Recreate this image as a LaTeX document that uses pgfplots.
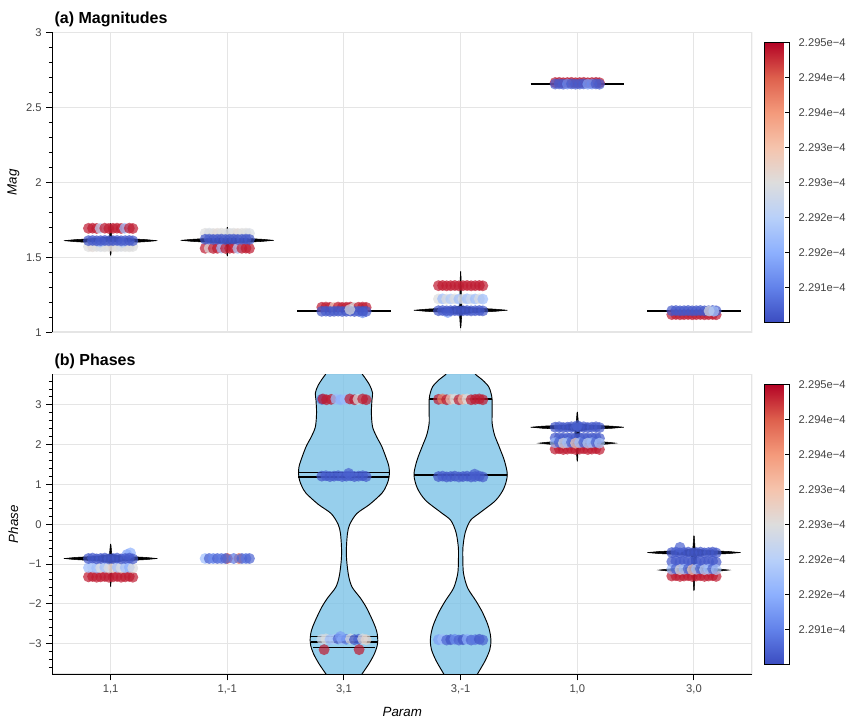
\documentclass[border=0pt]{standalone}
\usepackage{fontspec}
\setmainfont{Liberation Sans}
\usepackage{pgfplots}
\usepackage{pgfplotstable}
\pgfplotsset{compat=1.18}
\definecolor{gridgrey}{RGB}{229,229,229}
\definecolor{labgrey}{RGB}{68,68,68}
\definecolor{vfill}{RGB}{125,195,231}
\pgfplotsset{colormap={coolwarm}{rgb255=(59,76,192) rgb255=(98,130,234) rgb255=(141,176,254) rgb255=(184,208,249) rgb255=(221,221,221) rgb255=(245,196,173) rgb255=(244,154,123) rgb255=(222,96,77) rgb255=(180,4,38)}}

\pgfplotstableread[row sep=\\]{
x y m\\
-0.19 1.571 0.5\\ -0.155 1.570 0.52\\ -0.12 1.572 0.5\\ -0.085 1.571 0.48\\ -0.05 1.570 0.5\\ -0.015 1.572 0.5\\
0.02 1.571 0.52\\ 0.055 1.570 0.5\\ 0.09 1.572 0.48\\ 0.125 1.571 0.5\\ 0.16 1.570 0.5\\ 0.19 1.572 0.5\\
-0.09 1.602 0.3\\ 0.1 1.600 0.35\\
-0.19 1.693 0.97\\ -0.155 1.694 0.97\\ -0.12 1.692 0.97\\ -0.09 1.693 0.4\\ -0.05 1.694 0.97\\ -0.015 1.692 0.97\\
0.02 1.693 0.97\\ 0.055 1.694 0.97\\ 0.09 1.692 0.97\\ 0.12 1.693 0.3\\ 0.16 1.694 0.97\\ 0.19 1.692 0.97\\
-0.19 1.611 0.02\\ -0.155 1.612 0.04\\ -0.12 1.610 0.02\\ -0.085 1.611 0.03\\ -0.05 1.612 0.02\\ -0.015 1.610 0.04\\
0.02 1.611 0.02\\ 0.055 1.612 0.03\\ 0.09 1.610 0.02\\ 0.125 1.611 0.04\\ 0.16 1.612 0.02\\ 0.19 1.610 0.03\\
0.81 1.660 0.5\\ 0.845 1.661 0.48\\ 0.88 1.659 0.5\\ 0.915 1.660 0.52\\ 0.95 1.661 0.5\\ 0.985 1.659 0.5\\
1.02 1.660 0.48\\ 1.055 1.661 0.5\\ 1.09 1.659 0.52\\ 1.125 1.660 0.5\\ 1.16 1.661 0.5\\ 1.19 1.659 0.48\\
0.81 1.560 0.97\\ 0.845 1.561 0.5\\ 0.88 1.559 0.97\\ 0.915 1.560 0.97\\ 0.95 1.561 0.3\\ 0.985 1.559 0.97\\
1.02 1.560 0.97\\ 1.055 1.561 0.97\\ 1.09 1.559 0.35\\ 1.125 1.560 0.97\\ 1.16 1.561 0.97\\ 1.19 1.559 0.97\\
0.81 1.620 0.02\\ 0.845 1.621 0.04\\ 0.88 1.619 0.02\\ 0.915 1.620 0.03\\ 0.95 1.621 0.02\\ 0.985 1.619 0.04\\
1.02 1.620 0.02\\ 1.055 1.621 0.03\\ 1.09 1.619 0.02\\ 1.125 1.620 0.04\\ 1.16 1.621 0.02\\ 1.19 1.619 0.03\\
1.81 1.167 0.97\\ 1.845 1.168 0.97\\ 1.88 1.166 0.97\\ 1.915 1.167 0.6\\ 1.95 1.168 0.97\\ 1.985 1.166 0.97\\
2.02 1.167 0.97\\ 2.055 1.168 0.97\\ 2.09 1.166 0.5\\ 2.125 1.167 0.97\\ 2.16 1.168 0.97\\ 2.19 1.166 0.97\\
2.16 1.130 0.17\\
1.81 1.140 0.02\\ 1.845 1.141 0.04\\ 1.88 1.139 0.02\\ 1.915 1.140 0.03\\ 1.95 1.141 0.02\\ 1.985 1.139 0.04\\
2.02 1.140 0.02\\ 2.055 1.141 0.03\\ 2.09 1.139 0.02\\ 2.125 1.140 0.04\\ 2.16 1.141 0.02\\ 2.19 1.139 0.03\\
2.05 1.152 0.5\\
2.81 1.311 0.97\\ 2.845 1.312 0.97\\ 2.88 1.310 0.97\\ 2.915 1.311 0.97\\ 2.95 1.312 0.97\\ 2.985 1.310 0.97\\
3.02 1.311 0.97\\ 3.055 1.312 0.97\\ 3.09 1.310 0.97\\ 3.125 1.311 0.97\\ 3.16 1.312 0.97\\ 3.19 1.310 0.97\\
2.81 1.222 0.5\\ 2.845 1.223 0.3\\ 2.88 1.221 0.5\\ 2.915 1.222 0.35\\ 2.95 1.223 0.5\\ 2.985 1.221 0.3\\
3.02 1.222 0.5\\ 3.055 1.223 0.3\\ 3.09 1.221 0.45\\ 3.125 1.222 0.3\\ 3.16 1.223 0.5\\ 3.19 1.221 0.3\\
2.89 1.132 0.2\\
2.81 1.144 0.02\\ 2.845 1.145 0.04\\ 2.88 1.143 0.02\\ 2.915 1.144 0.03\\ 2.95 1.145 0.02\\ 2.985 1.143 0.04\\
3.02 1.144 0.02\\ 3.055 1.145 0.03\\ 3.09 1.143 0.02\\ 3.125 1.144 0.04\\ 3.16 1.145 0.02\\ 3.19 1.143 0.03\\
3.81 2.665 0.97\\ 3.845 2.666 0.97\\ 3.88 2.664 0.97\\ 3.915 2.665 0.97\\ 3.95 2.666 0.97\\ 3.985 2.664 0.97\\
4.02 2.665 0.97\\ 4.055 2.666 0.97\\ 4.09 2.664 0.97\\ 4.125 2.665 0.97\\ 4.16 2.666 0.97\\ 4.19 2.664 0.97\\
3.81 2.655 0.04\\ 3.845 2.656 0.04\\ 3.88 2.654 0.04\\ 3.915 2.655 0.15\\ 3.95 2.656 0.04\\ 3.985 2.654 0.04\\
4.02 2.655 0.04\\ 4.055 2.656 0.04\\ 4.09 2.654 0.2\\ 4.125 2.655 0.15\\ 4.16 2.656 0.04\\ 4.19 2.654 0.04\\
4.81 1.118 0.97\\ 4.845 1.119 0.97\\ 4.88 1.117 0.97\\ 4.915 1.118 0.97\\ 4.95 1.119 0.97\\ 4.985 1.117 0.97\\
5.02 1.118 0.97\\ 5.055 1.119 0.97\\ 5.09 1.117 0.97\\ 5.125 1.118 0.97\\ 5.16 1.119 0.97\\ 5.19 1.117 0.97\\
4.81 1.144 0.03\\ 4.845 1.145 0.03\\ 4.88 1.143 0.03\\ 4.915 1.144 0.03\\ 4.95 1.145 0.03\\ 4.985 1.143 0.03\\
5.02 1.144 0.03\\ 5.055 1.145 0.03\\ 5.09 1.143 0.03\\ 5.125 1.144 0.03\\ 5.16 1.145 0.03\\ 5.19 1.143 0.03\\
5.13 1.142 0.5\\ 5.17 1.140 0.35\\
}\magpts

\pgfplotstableread[row sep=\\]{
x y m\\
-0.19 -1.32 0.97\\ -0.155 -1.31 0.97\\ -0.12 -1.33 0.97\\ -0.085 -1.32 0.97\\ -0.05 -1.31 0.97\\ -0.015 -1.33 0.97\\
0.02 -1.32 0.97\\ 0.055 -1.31 0.97\\ 0.09 -1.33 0.97\\ 0.125 -1.32 0.97\\ 0.16 -1.31 0.97\\ 0.19 -1.33 0.97\\
-0.19 -1.09 0.3\\ -0.155 -1.08 0.35\\ -0.12 -1.10 0.3\\ -0.085 -1.09 0.5\\ -0.05 -1.08 0.3\\ -0.015 -1.10 0.5\\
0.02 -1.09 0.55\\ 0.055 -1.08 0.3\\ 0.09 -1.10 0.5\\ 0.125 -1.09 0.3\\ 0.16 -1.08 0.25\\ 0.19 -1.10 0.5\\
0.14 -0.76 0.2\\ 0.17 -0.72 0.25\\
-0.19 -0.86 0.02\\ -0.155 -0.85 0.04\\ -0.12 -0.87 0.02\\ -0.085 -0.86 0.03\\ -0.05 -0.85 0.02\\ -0.015 -0.87 0.04\\
0.02 -0.86 0.02\\ 0.055 -0.85 0.03\\ 0.09 -0.87 0.02\\ 0.125 -0.86 0.04\\ 0.16 -0.85 0.02\\ 0.19 -0.87 0.03\\
1.0 -0.86 0.9\\ 1.1 -0.86 0.85\\
0.81 -0.86 0.3\\ 0.845 -0.86 0.05\\ 0.88 -0.86 0.15\\ 0.915 -0.86 0.05\\ 0.95 -0.86 0.1\\ 0.985 -0.86 0.05\\
1.055 -0.86 0.1\\ 1.125 -0.86 0.05\\ 1.16 -0.86 0.1\\ 1.19 -0.86 0.05\\
1.81 -2.89 0.45\\ 1.845 -2.88 0.5\\ 1.88 -2.90 0.3\\ 1.915 -2.89 0.35\\ 1.95 -2.88 0.05\\ 1.985 -2.90 0.3\\
2.02 -2.89 0.1\\ 2.055 -2.88 0.5\\ 2.09 -2.90 0.02\\ 2.125 -2.89 0.05\\ 2.16 -2.88 0.5\\ 2.19 -2.90 0.55\\
1.97 -2.82 0.2\\ 1.83 -3.15 0.97\\ 2.13 -3.15 0.97\\
1.81 1.21 0.02\\ 1.845 1.22 0.04\\ 1.88 1.20 0.02\\ 1.915 1.21 0.03\\ 1.95 1.22 0.02\\ 1.985 1.20 0.04\\
2.02 1.21 0.02\\ 2.055 1.22 0.03\\ 2.09 1.20 0.02\\ 2.125 1.21 0.04\\ 2.16 1.22 0.02\\ 2.19 1.20 0.03\\
2.04 1.28 0.05\\
1.81 3.14 0.05\\ 1.82 3.15 0.97\\ 1.85 3.13 0.97\\ 1.89 3.14 0.97\\ 1.93 3.15 0.3\\ 1.97 3.13 0.25\\
2.01 3.14 0.3\\ 2.05 3.15 0.97\\ 2.09 3.13 0.97\\ 2.12 3.14 0.5\\ 2.16 3.15 0.97\\ 2.19 3.13 0.97\\
2.81 3.14 0.97\\ 2.845 3.15 0.8\\ 2.88 3.13 0.97\\ 2.915 3.14 0.6\\ 2.95 3.15 0.5\\ 2.985 3.13 0.97\\
3.02 3.14 0.65\\ 3.055 3.15 0.5\\ 3.09 3.13 0.97\\ 3.125 3.14 0.97\\ 3.16 3.15 0.97\\ 3.19 3.13 0.97\\
2.81 1.20 0.02\\ 2.845 1.21 0.04\\ 2.88 1.19 0.02\\ 2.915 1.20 0.03\\ 2.95 1.21 0.02\\ 2.985 1.19 0.04\\
3.02 1.20 0.02\\ 3.055 1.21 0.03\\ 3.09 1.19 0.02\\ 3.125 1.20 0.04\\ 3.16 1.21 0.02\\ 3.19 1.19 0.03\\
3.12 1.26 0.04\\
2.81 -2.90 0.2\\ 2.845 -2.89 0.3\\ 2.88 -2.91 0.05\\ 2.915 -2.90 0.02\\ 2.95 -2.89 0.15\\ 2.985 -2.91 0.05\\
3.02 -2.90 0.02\\ 3.055 -2.89 0.25\\ 3.09 -2.91 0.05\\ 3.125 -2.90 0.1\\ 3.16 -2.89 0.02\\ 3.19 -2.91 0.05\\
3.81 2.17 0.03\\ 3.845 2.18 0.03\\ 3.88 2.16 0.03\\ 3.915 2.17 0.03\\ 3.95 2.18 0.03\\ 3.985 2.16 0.03\\
4.02 2.17 0.03\\ 4.055 2.18 0.03\\ 4.09 2.16 0.03\\ 4.125 2.17 0.03\\ 4.16 2.18 0.03\\ 4.19 2.16 0.03\\
3.81 1.89 0.97\\ 3.845 1.90 0.97\\ 3.88 1.88 0.97\\ 3.915 1.89 0.97\\ 3.95 1.90 0.97\\ 3.985 1.88 0.97\\
4.02 1.89 0.97\\ 4.055 1.90 0.97\\ 4.09 1.88 0.97\\ 4.125 1.89 0.97\\ 4.16 1.90 0.97\\ 4.19 1.88 0.97\\
3.81 2.05 0.3\\ 3.845 2.06 0.05\\ 3.88 2.04 0.5\\ 3.915 2.05 0.3\\ 3.95 2.06 0.05\\ 3.985 2.04 0.6\\
4.02 2.05 0.3\\ 4.055 2.06 0.05\\ 4.09 2.04 0.4\\ 4.125 2.05 0.3\\ 4.16 2.06 0.05\\ 4.19 2.04 0.35\\
3.81 2.44 0.02\\ 3.845 2.45 0.04\\ 3.88 2.43 0.02\\ 3.915 2.44 0.03\\ 3.95 2.45 0.02\\ 3.985 2.43 0.04\\
4.02 2.44 0.02\\ 4.055 2.45 0.03\\ 4.09 2.43 0.02\\ 4.125 2.44 0.04\\ 4.16 2.45 0.02\\ 4.19 2.43 0.03\\
4.0 2.48 0.05\\
4.81 -0.94 0.03\\ 4.845 -0.93 0.03\\ 4.88 -0.95 0.03\\ 4.915 -0.94 0.03\\ 4.95 -0.93 0.03\\ 4.985 -0.95 0.03\\
5.02 -0.94 0.03\\ 5.055 -0.93 0.03\\ 5.09 -0.95 0.03\\ 5.125 -0.94 0.03\\ 5.16 -0.93 0.03\\ 5.19 -0.95 0.03\\
4.81 -1.30 0.97\\ 4.845 -1.29 0.97\\ 4.88 -1.31 0.97\\ 4.915 -1.30 0.97\\ 4.95 -1.29 0.97\\ 4.985 -1.31 0.97\\
5.02 -1.30 0.97\\ 5.055 -1.29 0.97\\ 5.09 -1.31 0.97\\ 5.125 -1.30 0.97\\ 5.16 -1.29 0.97\\ 5.19 -1.31 0.97\\
4.81 -1.13 0.3\\ 4.845 -1.12 0.05\\ 4.88 -1.14 0.5\\ 4.915 -1.13 0.3\\ 4.95 -1.12 0.05\\ 4.985 -1.14 0.6\\
5.02 -1.13 0.3\\ 5.055 -1.12 0.05\\ 5.09 -1.14 0.4\\ 5.125 -1.13 0.3\\ 5.16 -1.12 0.05\\ 5.19 -1.14 0.35\\
4.81 -0.71 0.02\\ 4.845 -0.70 0.04\\ 4.88 -0.72 0.02\\ 4.915 -0.71 0.03\\ 4.95 -0.70 0.02\\ 4.985 -0.72 0.04\\
5.02 -0.71 0.02\\ 5.055 -0.70 0.03\\ 5.09 -0.72 0.02\\ 5.125 -0.71 0.04\\ 5.16 -0.70 0.02\\ 5.19 -0.72 0.03\\
4.88 -0.58 0.05\\
}\phpts

\pgfplotsset{
  panel/.style={
    scale only axis, width=525pt, height=225pt,
    xmin=-0.5, xmax=5.5,
    axis lines=left, axis line style={-, black, line width=0.75pt},
    xtick={0,1,2,3,4,5},
    grid=major, major grid style={gridgrey, line width=0.75pt},
    tick align=outside, major tick length=4.5pt, minor tick length=2.6pt,
    tick style={black, line width=0.75pt},
    tick label style={font=\fontsize{8.4}{10}\selectfont, text=labgrey},
    label style={font=\fontsize{9.75}{12}\selectfont, text=labgrey},
    every axis y label/.style={at={(0,0.5)}, xshift=-29.25pt, rotate=90, anchor=center},
    title style={at={(0,1)}, anchor=west, xshift=1.5pt, yshift=4pt, inner sep=0pt, font=\bfseries\fontsize{12}{14}\selectfont, text=black},
    point meta min=0, point meta max=1,
    colorbar,
    colorbar shift/.style={xshift=9pt, yshift=-7.8pt},
    colorbar style={
      at={(parent axis.north east)}, anchor=north west,
      scale only axis, width=18.75pt, height=209.7pt,
      axis line style={black, line width=0.75pt},
      ytick={0.125,0.25,0.375,0.5,0.625,0.75,0.875,1},
      yticklabels={2.291e−4,2.292e−4,2.292e−4,2.293e−4,2.293e−4,2.294e−4,2.294e−4,2.295e−4},
      ytick pos=right, yticklabel pos=right,
      tick align=inside, major tick length=3pt,
      tick style={black, line width=0.6pt},
      yticklabel style={font=\fontsize{8.4}{10}\selectfont, text=labgrey, xshift=3.5pt},
    },
  },
  pts/.style={scatter, only marks, mark=*, mark size=4.1pt, scatter src=explicit,
    scatter/use mapped color={draw opacity=0, fill=mapped color, fill opacity=0.7}},
  violin/.style={fill=vfill, fill opacity=0.8, draw=black, line width=0.7pt},
  spike/.style={fill=black, draw=black, line width=0.4pt},
}

\begin{document}
\begin{tikzpicture}
\useasboundingbox (0,0) rectangle (642pt,540.75pt);

\begin{axis}[panel, name=pa, at={(39.225pt,291.525pt)}, anchor=south west,
  ymin=1, ymax=3, ytick={1,1.5,2,2.5,3}, yticklabels={1,1.5,2,2.5,3},
  minor ytick={1.1,1.2,1.3,1.4,1.6,1.7,1.8,1.9,2.1,2.2,2.3,2.4,2.6,2.7,2.8,2.9},
  xticklabels={}, xtick style={draw=none},
  x axis line style={draw=gridgrey},
  ylabel={\textit{Mag}}, title={(a) Magnitudes}]
\draw[gridgrey, line width=1.5pt] (rel axis cs:0,0) rectangle (rel axis cs:1,1);
\addplot[spike] coordinates {(0.002,1.515) (0.01,1.585) (0.1,1.595) (0.3,1.604) (0.4,1.611) (0.3,1.618) (0.1,1.627) (0.01,1.637) (0.002,1.724)
 (-0.002,1.724) (-0.01,1.637) (-0.1,1.627) (-0.3,1.618) (-0.4,1.611) (-0.3,1.604) (-0.1,1.595) (-0.01,1.585) (-0.002,1.515)} --cycle;
\addplot[spike] coordinates {(1.002,1.51) (1.01,1.587) (1.1,1.597) (1.3,1.606) (1.4,1.613) (1.3,1.620) (1.1,1.629) (1.01,1.639) (1.002,1.70)
 (0.998,1.70) (0.99,1.639) (0.9,1.629) (0.7,1.620) (0.6,1.613) (0.7,1.606) (0.9,1.597) (0.99,1.587) (0.998,1.51)} --cycle;
\addplot[spike] coordinates {(3.002,1.03) (3.01,1.121) (3.1,1.131) (3.3,1.140) (3.4,1.147) (3.3,1.154) (3.1,1.163) (3.01,1.173) (3.002,1.404)
 (2.998,1.404) (2.99,1.173) (2.9,1.163) (2.7,1.154) (2.6,1.147) (2.7,1.140) (2.9,1.131) (2.99,1.121) (2.998,1.03)} --cycle;
\addplot[black, line width=1.5pt] coordinates {(1.6,1.145) (2.4,1.145)};
\addplot[black, line width=1.5pt] coordinates {(3.6,2.655) (4.4,2.655)};
\addplot[black, line width=1.5pt] coordinates {(4.6,1.144) (5.4,1.144)};
\addplot[pts] table[x=x, y=y, meta=m] {\magpts};
\end{axis}

\begin{axis}[panel, name=pb, at={(39.225pt,35.025pt)}, anchor=south west,
  ymin=-3.77, ymax=3.77, ytick={-3,-2,-1,0,1,2,3}, yticklabels={−3,−2,−1,0,1,2,3},
  minor ytick={-3.6,-3.4,-3.2,-2.8,-2.6,-2.4,-2.2,-1.8,-1.6,-1.4,-1.2,-0.8,-0.6,-0.4,-0.2,0.2,0.4,0.6,0.8,1.2,1.4,1.6,1.8,2.2,2.4,2.6,2.8,3.2,3.4,3.6},
  xticklabels={{1,1},{1,-1},{3,1},{3,-1},{1,0},{3,0}},
  xlabel={\textit{Param}}, ylabel={\textit{Phase}}, title={(b) Phases},
  every axis x label/.style={at={(0.5,0)}, anchor=center, yshift=-28.3pt}]
\draw[gridgrey, line width=1.5pt] (rel axis cs:0,0) rectangle (rel axis cs:1,1);
\addplot[violin, smooth, tension=0.5] coordinates {(2.12,-3.90) (2.155,-3.76) (2.215,-3.50) (2.26,-3.26) (2.285,-3.05) (2.29,-2.92) (2.285,-2.75) (2.27,-2.59) (2.235,-2.35) (2.19,-2.08) (2.14,-1.85) (2.07,-1.58) (2.04,-1.30) (2.023,-0.90) (2.021,-0.60) (2.03,-0.23) (2.05,0.00) (2.11,0.27) (2.22,0.50) (2.325,0.78) (2.36,0.95) (2.38,1.10) (2.39,1.28) (2.385,1.45) (2.37,1.60) (2.325,1.95) (2.28,2.20) (2.245,2.45) (2.235,2.80) (2.24,3.13) (2.245,3.30) (2.22,3.50) (2.16,3.76) (2.11,3.90)
 (1.89,3.90) (1.84,3.76) (1.78,3.50) (1.755,3.30) (1.76,3.13) (1.765,2.80) (1.755,2.45) (1.72,2.20) (1.675,1.95) (1.63,1.60) (1.615,1.45) (1.61,1.28) (1.62,1.10) (1.64,0.95) (1.675,0.78) (1.78,0.50) (1.89,0.27) (1.95,0.00) (1.97,-0.23) (1.979,-0.60) (1.977,-0.90) (1.96,-1.30) (1.93,-1.58) (1.86,-1.85) (1.81,-2.08) (1.765,-2.35) (1.73,-2.59) (1.715,-2.75) (1.71,-2.92) (1.715,-3.05) (1.74,-3.26) (1.785,-3.50) (1.845,-3.76) (1.88,-3.90)} --cycle;
\addplot[violin, smooth, tension=0.5] coordinates {(3.12,-3.90) (3.145,-3.76) (3.21,-3.43) (3.25,-3.15) (3.26,-2.92) (3.25,-2.70) (3.23,-2.50) (3.185,-2.20) (3.13,-1.92) (3.06,-1.60) (3.025,-1.24) (3.019,-0.90) (3.02,-0.57) (3.04,-0.20) (3.085,0.10) (3.17,0.30) (3.30,0.60) (3.37,0.90) (3.40,1.24) (3.375,1.60) (3.33,1.95) (3.29,2.25) (3.27,2.54) (3.27,2.80) (3.27,3.13) (3.26,3.30) (3.24,3.46) (3.19,3.62) (3.13,3.76) (3.08,3.90)
 (2.92,3.90) (2.87,3.76) (2.81,3.62) (2.76,3.46) (2.74,3.30) (2.73,3.13) (2.73,2.80) (2.73,2.54) (2.71,2.25) (2.67,1.95) (2.625,1.60) (2.60,1.24) (2.63,0.90) (2.70,0.60) (2.83,0.30) (2.915,0.10) (2.96,-0.20) (2.98,-0.57) (2.981,-0.90) (2.975,-1.24) (2.94,-1.60) (2.87,-1.92) (2.815,-2.20) (2.77,-2.50) (2.75,-2.70) (2.74,-2.92) (2.75,-3.15) (2.79,-3.43) (2.855,-3.76) (2.88,-3.90)} --cycle;
\addplot[spike] coordinates {(0.002,-1.56) (0.01,-0.96) (0.1,-0.92) (0.3,-0.888) (0.4,-0.86) (0.3,-0.832) (0.1,-0.80) (0.01,-0.76) (0.002,-0.50)
 (-0.002,-0.50) (-0.01,-0.76) (-0.1,-0.80) (-0.3,-0.832) (-0.4,-0.86) (-0.3,-0.888) (-0.1,-0.92) (-0.01,-0.96) (-0.002,-1.56)} --cycle;
\addplot[spike] coordinates {(4.002,1.59) (4.01,1.95) (4.08,1.985) (4.25,2.014) (4.33,2.04) (4.25,2.066) (4.08,2.095) (4.02,2.13) (4.02,2.35) (4.1,2.385) (4.3,2.414) (4.4,2.44) (4.3,2.466) (4.1,2.495) (4.01,2.53) (4.002,2.82)
 (3.998,2.82) (3.99,2.53) (3.9,2.495) (3.7,2.466) (3.6,2.44) (3.7,2.414) (3.9,2.385) (3.98,2.35) (3.98,2.13) (3.92,2.095) (3.75,2.066) (3.67,2.04) (3.75,2.014) (3.92,1.985) (3.99,1.95) (3.998,1.59)} --cycle;
\addplot[spike] coordinates {(5.002,-1.66) (5.01,-1.24) (5.075,-1.205) (5.22,-1.176) (5.3,-1.15) (5.22,-1.124) (5.075,-1.095) (5.02,-1.06) (5.02,-0.80) (5.1,-0.765) (5.3,-0.736) (5.4,-0.71) (5.3,-0.684) (5.1,-0.655) (5.01,-0.62) (5.002,-0.29)
 (4.998,-0.29) (4.99,-0.62) (4.9,-0.655) (4.7,-0.684) (4.6,-0.71) (4.7,-0.736) (4.9,-0.765) (4.98,-0.80) (4.98,-1.06) (4.925,-1.095) (4.78,-1.124) (4.7,-1.15) (4.78,-1.176) (4.925,-1.205) (4.99,-1.24) (4.998,-1.66)} --cycle;
\addplot[black, line width=1.3pt] coordinates {(1.605,1.30) (2.395,1.30)};
\addplot[black, line width=1.3pt] coordinates {(1.61,1.18) (2.39,1.18)};
\addplot[black, line width=1.0pt] coordinates {(1.72,-2.815) (2.28,-2.815)};
\addplot[black, line width=1.0pt] coordinates {(1.715,-2.96) (2.285,-2.96)};
\addplot[black, line width=1.0pt] coordinates {(1.735,-3.10) (2.265,-3.10)};
\addplot[black, line width=1.3pt] coordinates {(2.73,3.14) (3.27,3.14)};
\addplot[black, line width=1.3pt] coordinates {(2.6,1.24) (3.4,1.24)};
\addplot[pts] table[x=x, y=y, meta=m] {\phpts};
\end{axis}

\draw[black, line width=0.75pt] (pa.south west) -- (pa.north west);
\draw[black, line width=0.75pt] (pb.south west) -- (pb.north west);
\draw[black, line width=0.75pt] (pb.south west) -- (pb.south east);
\end{tikzpicture}
\end{document}
